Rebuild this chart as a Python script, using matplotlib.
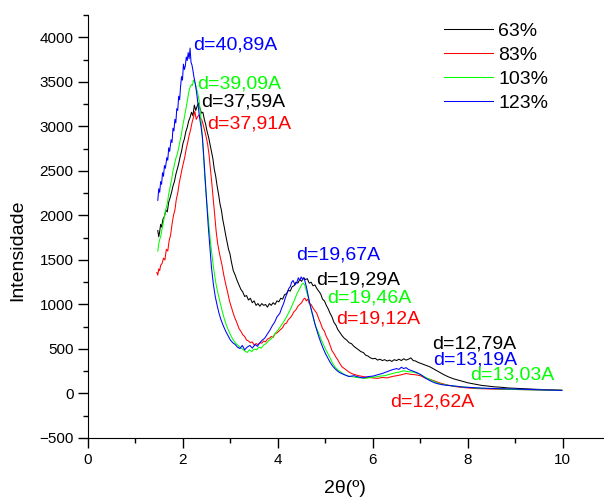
import numpy as np
import matplotlib
matplotlib.use('Agg')
import matplotlib.pyplot as plt
from matplotlib.ticker import MultipleLocator

plt.rcParams['font.family'] = ['Liberation Sans', 'DejaVu Sans']

# ------------------------- 读图数据 (2θ, 强度) -------------------------
s63 = [(1.47, 1830), (1.49, 1760), (1.51, 1820), (1.53, 1900), (1.55, 1870), (1.58, 1960),
       (1.61, 1990), (1.64, 2060), (1.67, 2040), (1.70, 2150), (1.73, 2200), (1.76, 2260),
       (1.79, 2330), (1.82, 2380), (1.85, 2460), (1.88, 2520), (1.91, 2580), (1.94, 2660),
       (1.97, 2720), (2.00, 2810), (2.03, 2860), (2.06, 2940), (2.09, 2990), (2.12, 3060),
       (2.15, 3100), (2.18, 3160), (2.21, 3120), (2.24, 3240), (2.27, 3180), (2.30, 3230),
       (2.33, 3260), (2.36, 3200), (2.39, 3150), (2.42, 3160), (2.45, 3080), (2.48, 3020),
       (2.51, 2940), (2.54, 2880), (2.57, 2800), (2.60, 2720), (2.63, 2640), (2.66, 2520),
       (2.69, 2440), (2.72, 2330), (2.75, 2240), (2.78, 2130), (2.81, 2060), (2.84, 1950),
       (2.87, 1870), (2.90, 1780), (2.93, 1700), (2.96, 1620), (2.99, 1570), (3.02, 1480),
       (3.06, 1380), (3.10, 1330), (3.14, 1270), (3.18, 1220), (3.22, 1170), (3.26, 1140),
       (3.30, 1090), (3.34, 1100), (3.38, 1050), (3.42, 1070), (3.46, 1020), (3.50, 1040),
       (3.54, 990), (3.58, 1010), (3.62, 980), (3.66, 1010), (3.70, 990), (3.74, 1000),
       (3.78, 970), (3.82, 1010), (3.86, 990), (3.90, 1020), (3.94, 1000), (3.98, 1040),
       (4.02, 1030), (4.06, 1070), (4.10, 1060), (4.14, 1110), (4.18, 1120), (4.22, 1160),
       (4.26, 1150), (4.30, 1200), (4.34, 1210), (4.38, 1250), (4.42, 1240), (4.46, 1280),
       (4.50, 1260), (4.54, 1300), (4.58, 1280), (4.62, 1290), (4.66, 1240), (4.70, 1250),
       (4.74, 1210), (4.78, 1220), (4.82, 1180), (4.86, 1150), (4.90, 1120), (4.94, 1060),
       (4.98, 1040), (5.02, 990), (5.06, 950), (5.10, 900), (5.14, 860), (5.18, 800),
       (5.22, 770), (5.26, 720), (5.30, 690), (5.35, 650), (5.40, 620), (5.45, 600),
       (5.50, 570), (5.55, 560), (5.60, 530), (5.65, 510), (5.70, 490), (5.75, 470),
       (5.80, 460), (5.85, 430), (5.90, 420), (5.95, 400), (6.00, 390), (6.05, 395),
       (6.10, 375), (6.15, 385), (6.20, 370), (6.25, 380), (6.30, 365), (6.35, 375),
       (6.40, 360), (6.45, 380), (6.50, 370), (6.55, 385), (6.60, 370), (6.65, 390),
       (6.70, 375), (6.75, 385), (6.80, 400), (6.85, 370), (6.90, 365), (6.95, 350),
       (7.00, 340), (7.10, 320), (7.20, 300), (7.30, 270), (7.40, 240), (7.50, 210),
       (7.60, 185), (7.70, 165), (7.80, 150), (7.90, 135), (8.00, 120), (8.10, 110),
       (8.20, 100), (8.30, 90), (8.40, 85), (8.55, 75), (8.70, 70), (8.85, 62),
       (9.00, 58), (9.20, 52), (9.40, 48), (9.60, 44), (9.80, 40), (9.98, 36)]

s83 = [(1.45, 1360), (1.47, 1330), (1.49, 1400), (1.51, 1380), (1.53, 1440), (1.56, 1460),
       (1.59, 1520), (1.62, 1500), (1.65, 1620), (1.68, 1600), (1.71, 1720), (1.74, 1780),
       (1.77, 1900), (1.80, 2000), (1.83, 2060), (1.86, 2180), (1.89, 2250), (1.92, 2360),
       (1.95, 2440), (1.98, 2520), (2.01, 2590), (2.04, 2660), (2.07, 2750), (2.10, 2820),
       (2.13, 2900), (2.16, 2960), (2.19, 3040), (2.22, 3100), (2.25, 3170), (2.28, 3080),
       (2.31, 3110), (2.34, 3130), (2.37, 3090), (2.40, 3070), (2.43, 3010), (2.46, 2950),
       (2.49, 2880), (2.52, 2800), (2.55, 2680), (2.58, 2520), (2.61, 2350), (2.64, 2170),
       (2.67, 1980), (2.70, 1820), (2.73, 1690), (2.76, 1600), (2.79, 1520), (2.82, 1450),
       (2.86, 1330), (2.90, 1230), (2.94, 1140), (2.98, 1040), (3.02, 970), (3.06, 900),
       (3.10, 840), (3.14, 790), (3.18, 730), (3.22, 700), (3.26, 660), (3.30, 640),
       (3.34, 600), (3.38, 590), (3.42, 570), (3.46, 580), (3.50, 545), (3.54, 560),
       (3.58, 550), (3.62, 570), (3.66, 565), (3.70, 590), (3.74, 580), (3.78, 610),
       (3.82, 620), (3.86, 640), (3.90, 630), (3.94, 670), (3.98, 680), (4.02, 700),
       (4.06, 720), (4.10, 740), (4.14, 780), (4.18, 790), (4.22, 830), (4.26, 850),
       (4.30, 880), (4.34, 920), (4.38, 940), (4.42, 980), (4.46, 1000), (4.50, 1020),
       (4.54, 1060), (4.57, 1070), (4.60, 1040), (4.63, 1060), (4.66, 1010), (4.70, 1000),
       (4.74, 960), (4.78, 930), (4.82, 900), (4.86, 840), (4.90, 790), (4.94, 730),
       (4.98, 700), (5.02, 640), (5.06, 600), (5.10, 540), (5.14, 480), (5.18, 450),
       (5.22, 410), (5.26, 380), (5.30, 340), (5.35, 300), (5.40, 280), (5.45, 260),
       (5.50, 240), (5.55, 225), (5.60, 215), (5.70, 200), (5.80, 190), (5.90, 180),
       (6.00, 175), (6.10, 170), (6.20, 180), (6.30, 175), (6.40, 190), (6.50, 200),
       (6.60, 210), (6.70, 225), (6.80, 215), (6.90, 210), (7.00, 200), (7.10, 175),
       (7.20, 160), (7.30, 140), (7.40, 120), (7.50, 105), (7.60, 92), (7.70, 80),
       (7.85, 70), (8.00, 62), (8.20, 55), (8.50, 50), (9.00, 45), (9.50, 40), (9.98, 35)]

s103 = [(1.47, 1600), (1.49, 1680), (1.51, 1730), (1.53, 1760), (1.55, 1820), (1.58, 1900),
        (1.61, 1990), (1.64, 2070), (1.67, 2130), (1.70, 2240), (1.73, 2320), (1.76, 2400),
        (1.79, 2500), (1.82, 2570), (1.85, 2640), (1.88, 2690), (1.91, 2760), (1.94, 2840),
        (1.97, 2920), (2.00, 3020), (2.03, 3100), (2.06, 3190), (2.09, 3280), (2.12, 3380),
        (2.15, 3440), (2.18, 3470), (2.20, 3460), (2.22, 3520), (2.25, 3490), (2.28, 3440),
        (2.31, 3380), (2.34, 3290), (2.37, 3150), (2.40, 2950), (2.43, 2700), (2.46, 2420),
        (2.49, 2220), (2.52, 2050), (2.55, 1870), (2.58, 1700), (2.61, 1560), (2.64, 1430),
        (2.67, 1320), (2.70, 1220), (2.74, 1120), (2.78, 1030), (2.82, 940), (2.86, 860),
        (2.90, 790), (2.95, 720), (3.00, 660), (3.05, 610), (3.10, 570), (3.15, 545),
        (3.20, 520), (3.25, 500), (3.30, 480), (3.35, 460), (3.40, 490), (3.45, 470),
        (3.50, 500), (3.55, 490), (3.60, 520), (3.65, 510), (3.70, 545), (3.75, 560),
        (3.80, 590), (3.85, 610), (3.90, 640), (3.95, 680), (4.00, 710), (4.05, 750),
        (4.10, 790), (4.15, 830), (4.20, 880), (4.25, 930), (4.30, 990), (4.35, 1050),
        (4.40, 1120), (4.44, 1160), (4.48, 1200), (4.51, 1230), (4.54, 1240), (4.57, 1210),
        (4.60, 1150), (4.64, 1080), (4.68, 990), (4.72, 900), (4.76, 820), (4.80, 750),
        (4.85, 690), (4.90, 620), (4.95, 560), (5.00, 500), (5.05, 450), (5.10, 400),
        (5.15, 340), (5.20, 300), (5.25, 270), (5.30, 250), (5.38, 220), (5.45, 200),
        (5.55, 190), (5.65, 180), (5.75, 175), (5.85, 170), (5.95, 180), (6.05, 185),
        (6.15, 195), (6.25, 200), (6.35, 215), (6.45, 230), (6.55, 240), (6.65, 255),
        (6.75, 245), (6.85, 240), (6.95, 225), (7.05, 200), (7.15, 170), (7.25, 145),
        (7.35, 120), (7.45, 105), (7.60, 90), (7.80, 78), (7.97, 70), (8.20, 60),
        (8.50, 55), (9.00, 45), (9.50, 40), (9.98, 35)]

s123 = [(1.47, 2170), (1.49, 2300), (1.51, 2260), (1.53, 2380), (1.55, 2350), (1.57, 2480),
        (1.59, 2440), (1.61, 2560), (1.63, 2530), (1.66, 2650), (1.68, 2620), (1.70, 2760),
        (1.72, 2720), (1.75, 2850), (1.77, 2820), (1.79, 2980), (1.81, 2950), (1.83, 3080),
        (1.85, 3040), (1.87, 3200), (1.89, 3180), (1.91, 3340), (1.93, 3300), (1.95, 3450),
        (1.97, 3560), (1.99, 3520), (2.01, 3700), (2.03, 3640), (2.05, 3680), (2.07, 3780),
        (2.09, 3740), (2.11, 3830), (2.13, 3760), (2.15, 3880), (2.17, 3720), (2.19, 3690),
        (2.21, 3630), (2.23, 3560), (2.26, 3480), (2.29, 3370), (2.32, 3240), (2.35, 3100),
        (2.38, 3000), (2.41, 2880), (2.44, 2650), (2.47, 2400), (2.50, 2150), (2.53, 1900),
        (2.56, 1700), (2.60, 1420), (2.64, 1230), (2.68, 1090), (2.72, 990), (2.76, 900),
        (2.80, 830), (2.85, 760), (2.90, 700), (2.95, 650), (3.00, 600), (3.05, 570),
        (3.10, 550), (3.15, 520), (3.20, 505), (3.25, 540), (3.30, 490), (3.35, 520),
        (3.41, 540), (3.46, 510), (3.52, 550), (3.57, 530), (3.62, 570), (3.67, 600),
        (3.72, 620), (3.77, 660), (3.83, 710), (3.88, 760), (3.93, 800), (3.98, 860),
        (4.04, 900), (4.08, 960), (4.12, 1010), (4.16, 1080), (4.19, 1120), (4.23, 1180),
        (4.26, 1200), (4.29, 1250), (4.32, 1270), (4.36, 1220), (4.40, 1250), (4.43, 1300),
        (4.46, 1270), (4.49, 1310), (4.52, 1280), (4.55, 1300), (4.57, 1260), (4.60, 1200),
        (4.63, 1120), (4.66, 1040), (4.70, 950), (4.74, 870), (4.78, 780), (4.82, 710),
        (4.86, 640), (4.90, 580), (4.95, 510), (5.00, 450), (5.05, 400), (5.10, 350),
        (5.15, 310), (5.20, 280), (5.25, 255), (5.30, 235), (5.38, 215), (5.45, 200),
        (5.50, 190), (5.60, 200), (5.70, 185), (5.80, 175), (5.90, 190), (6.00, 195),
        (6.10, 210), (6.20, 225), (6.30, 245), (6.40, 265), (6.50, 280), (6.55, 270),
        (6.60, 295), (6.65, 280), (6.70, 290), (6.75, 270), (6.80, 260), (6.90, 240),
        (7.00, 215), (7.10, 175), (7.20, 145), (7.30, 120), (7.40, 105), (7.50, 95),
        (7.60, 90), (7.75, 82), (7.90, 72), (8.05, 68), (8.30, 60), (8.60, 55),
        (9.00, 50), (9.30, 45), (9.60, 40), (9.98, 35)]

series = [('63%', s63, 'black'), ('83%', s83, '#ff0000'),
          ('103%', s103, '#00ff00'), ('123%', s123, '#0000ff')]

# 峰位标注 (文字, x, y, 颜色)
labels = [('d=40,89A', 2.21, 3910, '#0000ff'), ('d=39,09A', 2.29, 3480, '#00ff00'),
          ('d=37,59A', 2.38, 3270, 'black'), ('d=37,91A', 2.51, 3030, '#ff0000'),
          ('d=19,67A', 4.38, 1560, '#0000ff'), ('d=19,29A', 4.80, 1280, 'black'),
          ('d=19,46A', 5.03, 1070, '#00ff00'), ('d=19,12A', 5.22, 840, '#ff0000'),
          ('d=12,79A', 7.24, 560, 'black'), ('d=13,19A', 7.28, 380, '#0000ff'),
          ('d=13,03A', 8.04, 210, '#00ff00'), ('d=12,62A', 6.36, -100, '#ff0000')]

fig = plt.figure(figsize=(6.04, 4.98), dpi=100)
ax = fig.add_axes([0.1457, 0.1205, 0.852, 0.849])

for name, pts, c in series:
    xy = np.array(pts)
    ax.plot(xy[:, 0], xy[:, 1], color=c, lw=0.75, label=name)

for txt, x, y, c in labels:
    ax.text(x, y, txt, color=c, fontsize=14, ha='left', va='center')

ax.set_xlim(0, 10.84)
ax.set_ylim(-500, 4250)
ax.xaxis.set_major_locator(MultipleLocator(2))
ax.xaxis.set_minor_locator(MultipleLocator(1))
ax.yaxis.set_major_locator(MultipleLocator(500))
ax.yaxis.set_minor_locator(MultipleLocator(250))
ax.spines['top'].set_visible(False)
ax.spines['right'].set_visible(False)
ax.tick_params(which='major', direction='out', length=7, width=1, labelsize=11)
ax.tick_params(which='minor', direction='out', length=3.5, width=1)

ax.set_xlabel('2θ(º)', fontsize=14, labelpad=10)
ax.set_ylabel('Intensidade', fontsize=14)
ax.yaxis.set_label_coords(-0.12, 0.444)

fig.legend(loc='upper left', bbox_to_anchor=(0.735, 0.955), frameon=False,
           fontsize=14, handlelength=2.5, handletextpad=0.3, labelspacing=0.32,
           borderpad=0, borderaxespad=0)

fig.savefig('out.png', dpi=100)
